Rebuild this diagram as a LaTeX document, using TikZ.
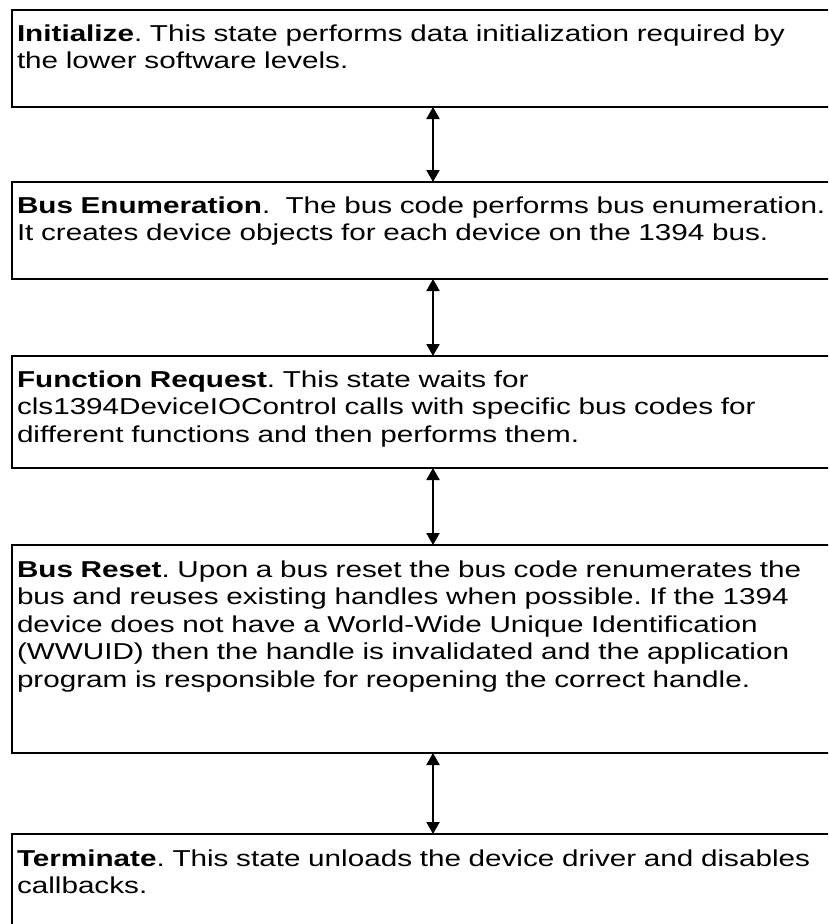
\documentclass[tikz,border=0pt]{standalone}
\usepackage{fontspec}
\setmainfont{Liberation Sans}[FakeStretch=1.29]
\usetikzlibrary{arrows.meta}
\begin{document}
\begin{tikzpicture}[x=1pt,y=-1pt,
  stbox/.style={draw=black, line width=2pt, anchor=north west, minimum width=830pt, inner sep=0pt, outer sep=0pt},
  txt/.style={anchor=base west, inner sep=0pt, outer sep=0pt, text width=900pt, align=left, font=\fontsize{23}{27.5}\selectfont\frenchspacing},
  dbl/.style={line width=2pt, {Triangle[width=13pt,length=12pt]}-{Triangle[width=13pt,length=12pt]}}]
\useasboundingbox (0,0) rectangle (828,924);
\clip (0,0) rectangle (828,924);
\fill[white] (0,0) rectangle (828,924);
\node[stbox, minimum height=97pt] (b1) at (12,10) {};
\node[stbox, minimum height=97pt] (b2) at (12,182) {};
\node[stbox, minimum height=112pt] (b3) at (12,356) {};
\node[stbox, minimum height=208pt] (b4) at (12,545) {};
\node[stbox, minimum height=120pt] (b5) at (12,834) {};
\node[txt] (t1) at (17,41) {\textbf{Initialize}. This state performs data initialization required by\\the lower software levels.};
\node[txt] (t2) at (17,213) {\textbf{Bus Enumeration}.\ \ The bus code performs bus enumeration.\\It creates device objects for each device on the 1394 bus.};
\node[txt] (t3) at (17,387) {\textbf{Function Request}. This state waits for\\cls1394DeviceIOControl calls with specific bus codes for\\different functions and then performs them.};
\node[txt] (t4) at (17,577) {\textbf{Bus Reset}. Upon a bus reset the bus code renumerates the\\bus and reuses existing handles when possible. If the 1394\\device does not have a World-Wide Unique Identification\\(WWUID) then the handle is invalidated and the application\\program is responsible for reopening the correct handle.};
\node[txt] (t5) at (17,866) {\textbf{Terminate}. This state unloads the device driver and disables\\callbacks.};
\coordinate (ax) at (433,0);
\draw[dbl] (b1.south -| ax) -- (b2.north -| ax);
\draw[dbl] (b2.south -| ax) -- (b3.north -| ax);
\draw[dbl] (b3.south -| ax) -- (b4.north -| ax);
\draw[dbl] (b4.south -| ax) -- (b5.north -| ax);
\end{tikzpicture}
\end{document}
